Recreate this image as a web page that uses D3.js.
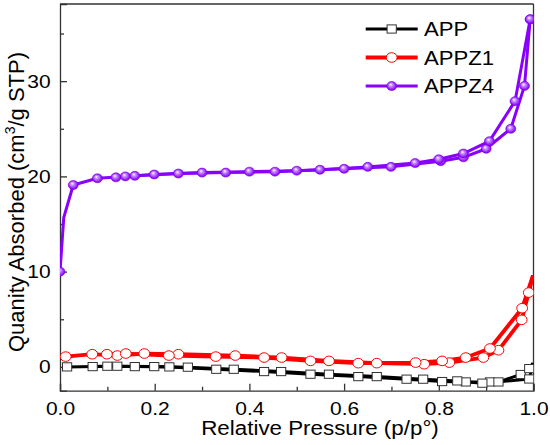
<!DOCTYPE html>
<html>
<head>
<meta charset="utf-8">
<script src="https://cdn.jsdelivr.net/npm/d3@7"></script>
<style>
  body { margin: 0; background: #fff; }
  svg text { font-family: Arial, "Liberation Sans", sans-serif; fill: #000; }
  .axis path, .axis line { stroke: #333; stroke-width: 1.3; }
</style>
</head>
<body>
<div id="chart"></div>
<script>
// ticks
const xTicks = [0, 0.2, 0.4, 0.6, 0.8, 1.0];
const xMinor = [0.1, 0.3, 0.5, 0.7, 0.9];
const yTicks = [0, 10, 20, 30];
const yMinor = [5, 15, 25, 35];

// [p/p0, quantity, marker?]  (third value 0 = line only, no marker)
const appAds = [[0.015, 0.0], [0.10, 0.07], [0.158, 0.03], [0.231, 0.0], [0.330, -0.25], [0.431, -0.49],
  [0.529, -0.77], [0.630, -1.02], [0.732, -1.29], [0.807, -1.54], [0.857, -1.58], [0.908, -1.58],
  [0.926, -1.58], [0.973, -0.8], [0.991, -0.18], [0.999, 0.4, 0]];
const appDes = [[0.999, 0.4, 0], [0.991, -1.27], [0.892, -1.71], [0.839, -1.47], [0.767, -1.29], [0.669, -1.02],
  [0.568, -0.77], [0.467, -0.49], [0.367, -0.25], [0.27, -0.03], [0.199, 0.03], [0.121, 0.07], [0.069, 0.03]];

const appz1Ads = [[0.012, 1.08], [0.068, 1.33], [0.121, 1.19], [0.178, 1.40], [0.250, 1.33], [0.370, 1.19],
  [0.468, 0.98], [0.568, 0.63], [0.669, 0.39], [0.769, 0.28], [0.822, 0.45], [0.894, 0.98], [0.926, 1.75],
  [0.975, 4.94], [0.990, 7.8], [0.999, 9.6, 0]];
const appz1Des = [[0.999, 9.6, 0], [0.976, 6.16], [0.908, 1.93], [0.857, 0.98], [0.807, 0.63], [0.751, 0.45],
  [0.630, 0.39], [0.529, 0.63], [0.431, 0.98], [0.329, 1.08], [0.230, 1.19], [0.139, 1.40], [0.099, 1.33]];

const appz4Ads = [[0.0, 10.0], [0.008, 15.7, 0], [0.028, 19.1], [0.079, 19.8], [0.138, 20.0], [0.199, 20.2],
  [0.30, 20.4], [0.40, 20.5], [0.50, 20.6], [0.60, 20.8], [0.699, 21.0], [0.804, 21.6], [0.852, 22.0],
  [0.90, 22.9], [0.952, 25.0], [0.981, 29.5], [0.993, 36.5]];
const appz4Des = [[0.993, 36.5], [0.961, 27.9], [0.907, 23.7], [0.852, 22.4], [0.80, 21.8], [0.75, 21.4],
  [0.65, 21.0], [0.549, 20.7], [0.454, 20.5], [0.35, 20.4], [0.25, 20.3], [0.158, 20.06], [0.118, 19.9]];

const seriesNames = ["APP", "APPZ1", "APPZ4"];
const seriesColors = ["#000000", "#ff0000", "#8a00ff"];
const seriesData = [[appAds, appDes], [appz1Ads, appz1Des], [appz4Ads, appz4Des]];

const W = 550, H = 445;
const plotL = 60, plotR = 533.5, plotT = 4, plotB = 390.7;
const sx = 1.13; // the figure is a little wider than tall, text is stretched too

const svg = d3.select("#chart").append("svg")
  .attr("width", W)
  .attr("height", H);

const x = d3.scaleLinear().domain([0, 1]).range([plotL, plotR]);
const y = d3.scaleLinear().domain([-2.5, 38.1]).range([plotB, plotT]);

// sphere gradient for APPZ4
const defs = svg.append("defs");
const grad = defs.append("radialGradient")
  .attr("id", "ball")
  .attr("cx", "0.5").attr("cy", "0.5").attr("r", "0.6")
  .attr("fx", "0.38").attr("fy", "0.32");
grad.append("stop").attr("offset", "0%").attr("stop-color", "#ffffff");
grad.append("stop").attr("offset", "30%").attr("stop-color", "#c98cff");
grad.append("stop").attr("offset", "75%").attr("stop-color", "#9010ff");
grad.append("stop").attr("offset", "100%").attr("stop-color", "#6a00c8");

defs.append("clipPath").attr("id", "plotclip")
  .append("rect")
  .attr("x", plotL).attr("y", plotT)
  .attr("width", plotR - plotL).attr("height", plotB - plotT);

// axes
svg.append("g")
  .attr("class", "axis")
  .attr("transform", `translate(0,${plotB})`)
  .call(d3.axisBottom(x).tickValues(xTicks).tickSize(-7).tickPadding(11).tickFormat(d3.format(".1f")))
  .call(g => g.selectAll("text").attr("font-size", "18.6px").attr("transform", `scale(${sx},1)`));

svg.append("g")
  .attr("class", "axis")
  .attr("transform", `translate(0,${plotB})`)
  .call(d3.axisBottom(x).tickValues(xMinor).tickSize(-4).tickFormat(""))
  .call(g => g.select(".domain").remove());

svg.append("g")
  .attr("class", "axis")
  .attr("transform", `translate(${plotL},0)`)
  .call(d3.axisLeft(y).tickValues(yTicks).tickSize(-7))
  .call(g => g.selectAll("text").attr("font-size", "18.6px")
    .attr("x", -9.3 / sx).attr("transform", `scale(${sx},1)`));

svg.append("g")
  .attr("class", "axis")
  .attr("transform", `translate(${plotL},0)`)
  .call(d3.axisLeft(y).tickValues(yMinor).tickSize(-4).tickFormat(""))
  .call(g => g.select(".domain").remove());

// top and right frame
svg.append("line")
  .attr("x1", plotL).attr("x2", plotR).attr("y1", plotT).attr("y2", plotT)
  .attr("stroke", "#333").attr("stroke-width", 1.3);
svg.append("line")
  .attr("x1", plotR).attr("x2", plotR).attr("y1", plotT).attr("y2", plotB)
  .attr("stroke", "#333").attr("stroke-width", 1.3);

// axis titles
svg.append("text")
  .attr("transform", `translate(320,435) scale(${sx},1)`)
  .attr("text-anchor", "middle")
  .attr("font-size", "19.8px")
  .text("Relative Pressure (p/p°)");

const yl = svg.append("text")
  .attr("transform", "translate(24,202) rotate(-90)")
  .attr("text-anchor", "middle")
  .attr("font-size", "22px");
yl.append("tspan").text("Quanity Absorbed (cm");
yl.append("tspan").attr("font-size", "14px").attr("dy", "-9").text("3");
yl.append("tspan").attr("dy", "9").text("/g STP)");

// marker drawing
function drawMarker(g, i, cx, cy) {
  if (i === 0) {
    g.append("rect")
      .attr("x", cx - 4.6).attr("y", cy - 4.1)
      .attr("width", 9.2).attr("height", 8.2)
      .attr("fill", "#fff").attr("stroke", "#333").attr("stroke-width", 1);
  } else if (i === 1) {
    g.append("ellipse")
      .attr("cx", cx).attr("cy", cy).attr("rx", 5.4).attr("ry", 4.8)
      .attr("fill", "#fff").attr("stroke", "#ff0000").attr("stroke-width", 1);
  } else {
    g.append("ellipse")
      .attr("cx", cx).attr("cy", cy).attr("rx", 5).attr("ry", 4.5)
      .attr("fill", "url(#ball)").attr("stroke", "#7a00e0").attr("stroke-width", 0.6);
  }
}

const lineWidths = [3, 3.8, 3];
const line = d3.line().x(d => x(d[0])).y(d => y(d[1]));
const plot = svg.append("g").attr("clip-path", "url(#plotclip)");

seriesData.forEach((branches, i) => {
  const g = plot.append("g");
  branches.forEach(b => {
    g.append("path")
      .datum(b)
      .attr("d", line)
      .attr("fill", "none")
      .attr("stroke", seriesColors[i])
      .attr("stroke-width", lineWidths[i])
      .attr("stroke-linejoin", "round");
  });
  branches.forEach(b => {
    b.filter(d => d[2] !== 0).forEach(d => drawMarker(g, i, x(d[0]), y(d[1])));
  });
});

// legend
const legend = svg.append("g");
seriesNames.forEach((name, i) => {
  const cy = 29 + i * 28.5;
  legend.append("line")
    .attr("x1", 365.7).attr("x2", 417.7).attr("y1", cy).attr("y2", cy)
    .attr("stroke", seriesColors[i]).attr("stroke-width", lineWidths[i]);
  drawMarker(legend, i, 391.7, cy);
  legend.append("text")
    .attr("transform", `translate(424,${cy + 7}) scale(${sx},1)`)
    .attr("font-size", "19.6px")
    .text(name);
});
</script>
</body>
</html>
